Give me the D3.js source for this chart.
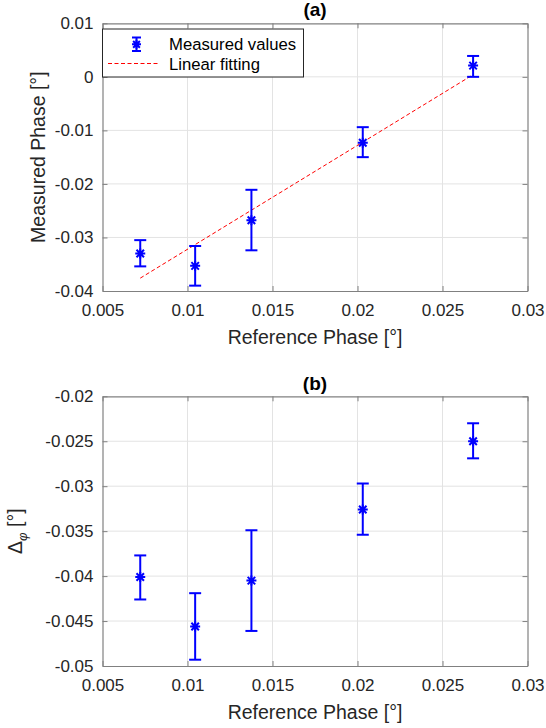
<!DOCTYPE html>
<html>
<head>
<meta charset="utf-8">
<script src="https://cdn.jsdelivr.net/npm/d3@7"></script>
<style>
  html, body { margin: 0; padding: 0; background: #fff; }
  svg { display: block; font-family: "Liberation Sans", Arial, sans-serif; }
</style>
</head>
<body>
<svg id="chart" width="546" height="728"></svg>
<script>
// ─── Data ──────────────────────────────────────────────────────────
const refPhase  = [0.00722, 0.01045, 0.01376, 0.02031, 0.0268];

const measured  = [-0.0330, -0.0353, -0.0268, -0.0123, 0.0021];
const measLow   = [-0.0354, -0.0390, -0.0324, -0.0150, 0.0000];
const measHigh  = [-0.0305, -0.0316, -0.0211, -0.0094, 0.0039];

const fitX = [0.00722, 0.0268];
const fitY = [-0.0376, 0.0004];

const delta     = [-0.0401, -0.0456, -0.0405, -0.0326, -0.0250];
const deltaLow  = [-0.0426, -0.0493, -0.0461, -0.0354, -0.0269];
const deltaHigh = [-0.0377, -0.0419, -0.0349, -0.0297, -0.0230];

const xTicks  = [0.005, 0.01, 0.015, 0.02, 0.025, 0.03];
const yTicksA = [-0.04, -0.03, -0.02, -0.01, 0, 0.01];
const yTicksB = [-0.05, -0.045, -0.04, -0.035, -0.03, -0.025, -0.02];

// ─── Layout / styles ───────────────────────────────────────────────
const AX_COLOR = '#808080';
const TXT = '#262626';
const GRID = '#e3e3e3';
const BLUE = '#0000ff';
const TICK_FS = 17;
const LABEL_FS = 19.5;

const svg = d3.select('#chart');

const fmt = d => String(+d.toFixed(4));

function panel(opts) {
    const { x, y, title, titleY, yLabel, labelX } = opts;
    const [x0, x1] = x.range();
    const [yb, yt] = y.range();
    const g = svg.append('g');

    // grid
    g.append('g').selectAll('line.gx')
        .data(opts.xTicks.slice(1, -1)).enter().append('line')
        .attr('x1', d => x(d)).attr('x2', d => x(d))
        .attr('y1', yt).attr('y2', yb)
        .attr('stroke', GRID).attr('stroke-width', 1);
    g.append('g').selectAll('line.gy')
        .data(opts.yTicks.slice(1, -1)).enter().append('line')
        .attr('y1', d => y(d)).attr('y2', d => y(d))
        .attr('x1', x0).attr('x2', x1)
        .attr('stroke', GRID).attr('stroke-width', 1);

    // axes (ticks pointing inward, box on)
    const style = sel => {
        sel.selectAll('path.domain').attr('stroke', AX_COLOR).attr('stroke-width', 1.2);
        sel.selectAll('.tick line').attr('stroke', AX_COLOR).attr('stroke-width', 1);
        sel.selectAll('.tick text').attr('fill', TXT).attr('font-size', TICK_FS)
            .attr('font-family', '"Liberation Sans", Arial, sans-serif');
    };
    g.append('g').attr('transform', `translate(0,${yb})`)
        .call(d3.axisBottom(x).tickValues(opts.xTicks).tickFormat(fmt)
            .tickSizeInner(-5).tickSizeOuter(0).tickPadding(13))
        .call(style);
    g.append('g').attr('transform', `translate(0,${yt})`)
        .call(d3.axisTop(x).tickValues(opts.xTicks).tickFormat('')
            .tickSizeInner(-5).tickSizeOuter(0))
        .call(style);
    g.append('g').attr('transform', `translate(${x0},0)`)
        .call(d3.axisLeft(y).tickValues(opts.yTicks).tickFormat(fmt)
            .tickSizeInner(-5).tickSizeOuter(0).tickPadding(9))
        .call(style);
    g.append('g').attr('transform', `translate(${x1},0)`)
        .call(d3.axisRight(y).tickValues(opts.yTicks).tickFormat('')
            .tickSizeInner(-5).tickSizeOuter(0))
        .call(style);

    // title
    g.append('text')
        .attr('x', (x0 + x1) / 2).attr('y', titleY)
        .attr('text-anchor', 'middle').attr('font-weight', 'bold')
        .attr('font-size', 19).attr('fill', '#000')
        .text(title);

    // x label
    g.append('text')
        .attr('x', (x0 + x1) / 2).attr('y', yb + 53)
        .attr('text-anchor', 'middle')
        .attr('font-size', LABEL_FS).attr('fill', TXT)
        .text('Reference Phase [°]');

    // y label
    const yl = g.append('text')
        .attr('transform', `translate(${labelX},${(yt + yb) / 2}) rotate(-90)`)
        .attr('text-anchor', 'middle')
        .attr('font-size', LABEL_FS).attr('fill', TXT);
    yLabel(yl);

    return g;
}

function errorBars(g, x, y, cx, cy, lo, hi) {
    const capW = 6;
    const data = cx.map((d, i) => ({ x: d, y: cy[i], lo: lo[i], hi: hi[i] }));
    const eg = g.append('g').attr('stroke', BLUE).attr('stroke-width', 2).attr('fill', 'none');
    eg.selectAll('line.v').data(data).enter().append('line')
        .attr('x1', d => x(d.x)).attr('x2', d => x(d.x))
        .attr('y1', d => y(d.lo)).attr('y2', d => y(d.hi));
    eg.selectAll('line.lo').data(data).enter().append('line')
        .attr('x1', d => x(d.x) - capW).attr('x2', d => x(d.x) + capW)
        .attr('y1', d => y(d.lo)).attr('y2', d => y(d.lo));
    eg.selectAll('line.hi').data(data).enter().append('line')
        .attr('x1', d => x(d.x) - capW).attr('x2', d => x(d.x) + capW)
        .attr('y1', d => y(d.hi)).attr('y2', d => y(d.hi));
    eg.selectAll('path.star').data(data).enter().append('path')
        .attr('d', d => starPath(x(d.x), y(d.y), 5));
}

function starPath(cx, cy, r) {
    const k = r * 0.75;
    return `M${cx - r},${cy}L${cx + r},${cy}` +
        `M${cx},${cy - r}L${cx},${cy + r}` +
        `M${cx - k},${cy - k}L${cx + k},${cy + k}` +
        `M${cx - k},${cy + k}L${cx + k},${cy - k}`;
}

// ─── Panel (a) ─────────────────────────────────────────────────────
const x = d3.scaleLinear().domain([0.005, 0.03]).range([102.5, 527.5]);
const ya = d3.scaleLinear().domain([-0.04, 0.01]).range([291, 23.3]);

const ga = panel({
    x, y: ya, xTicks, yTicks: yTicksA, title: '(a)', titleY: 16, labelX: 45,
    yLabel: t => t.text('Measured Phase [°]')
});

ga.append('path')
    .datum(fitX.map((d, i) => [d, fitY[i]]))
    .attr('d', d3.line().x(d => x(d[0])).y(d => ya(d[1])))
    .attr('stroke', '#ff0000').attr('stroke-width', 1)
    .attr('stroke-dasharray', '4,2.5').attr('fill', 'none');

errorBars(ga, x, ya, refPhase, measured, measLow, measHigh);

// legend
const lg = ga.append('g');
lg.append('rect')
    .attr('x', 102.5).attr('y', 29).attr('width', 201).attr('height', 48)
    .attr('fill', '#fff').attr('stroke', TXT).attr('stroke-width', 1);
const legG = lg.append('g').attr('stroke', BLUE).attr('stroke-width', 2).attr('fill', 'none');
legG.append('line').attr('x1', 136.5).attr('x2', 136.5).attr('y1', 37.5).attr('y2', 51);
legG.append('line').attr('x1', 132).attr('x2', 141).attr('y1', 37.5).attr('y2', 37.5);
legG.append('line').attr('x1', 132).attr('x2', 141).attr('y1', 51).attr('y2', 51);
legG.append('path').attr('d', starPath(136.5, 44.3, 4.5));
lg.append('line')
    .attr('x1', 108).attr('x2', 158).attr('y1', 63.5).attr('y2', 63.5)
    .attr('stroke', '#ff0000').attr('stroke-width', 1).attr('stroke-dasharray', '4,2.5');
lg.append('text').attr('x', 169).attr('y', 50.3)
    .attr('font-size', 16.7).attr('fill', '#000').text('Measured values');
lg.append('text').attr('x', 169).attr('y', 69.5)
    .attr('font-size', 16.7).attr('fill', '#000').text('Linear fitting');

// ─── Panel (b) ─────────────────────────────────────────────────────
const yb = d3.scaleLinear().domain([-0.05, -0.02]).range([666, 396.3]);

const gb = panel({
    x, y: yb, xTicks, yTicks: yTicksB, title: '(b)', titleY: 390, labelX: 22,
    yLabel: t => {
        t.append('tspan').text('Δ');
        t.append('tspan').attr('font-size', 13).attr('font-style', 'italic')
            .attr('dy', 5).text('φ');
        t.append('tspan').attr('dy', -5).text(' [°]');
    }
});

errorBars(gb, x, yb, refPhase, delta, deltaLow, deltaHigh);
</script>
</body>
</html>
